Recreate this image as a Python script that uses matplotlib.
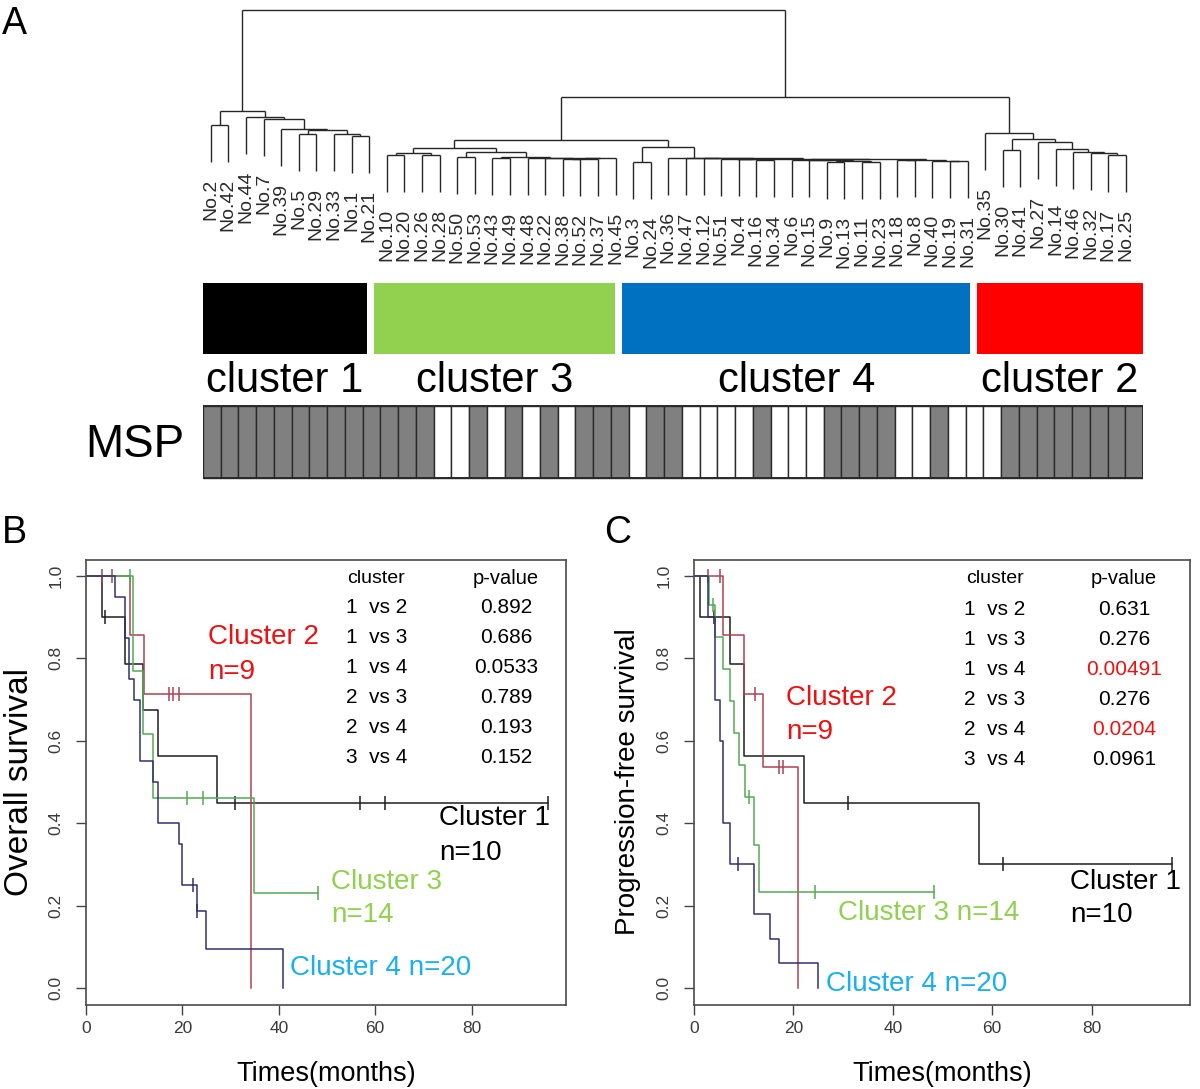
import numpy as np
import matplotlib
matplotlib.use("Agg")
import matplotlib.pyplot as plt
from matplotlib.patches import Rectangle

plt.rcParams['font.family'] = ['Liberation Sans', 'DejaVu Sans']

W, H = 1200, 1089

# ---------------- data : panel A ----------------
leaf_labels = ["No.2", "No.42", "No.44", "No.7", "No.39", "No.5", "No.29", "No.33", "No.1", "No.21",
               "No.10", "No.20", "No.26", "No.28", "No.50", "No.53", "No.43", "No.49", "No.48", "No.22",
               "No.38", "No.52", "No.37", "No.45",
               "No.3", "No.24", "No.36", "No.47", "No.12", "No.51", "No.4", "No.16", "No.34", "No.6",
               "No.15", "No.9", "No.13", "No.11", "No.23", "No.18", "No.8", "No.40", "No.19", "No.31",
               "No.35", "No.30", "No.41", "No.27", "No.14", "No.46", "No.32", "No.17", "No.25"]

# hierarchical merges (node, left child, right child, height)
merge_node = ["a1", "a2", "a3", "a4", "a5", "a6", "a7", "a8", "C1",
              "b1", "b2", "b3", "b4", "g1", "g2", "g3", "g4", "g5", "g6", "g7", "b5", "C3",
              "d1", "e1", "e2", "e3", "f1", "f2", "f3", "f4", "f5", "h1", "h2", "h3", "h4", "f6",
              "r3", "r2", "r1", "r0", "C4",
              "k1", "k2", "k3", "k4", "k5", "k6", "k7", "C2",
              "C34", "C234", "root"]
merge_left = ["No.2", "No.5", "No.1", "No.33", "a2", "No.39", "No.7", "No.44", "a1",
              "No.10", "No.26", "b1", "No.50", "No.43", "No.38", "g2", "g3", "No.22", "No.48", "g1", "b4", "b3",
              "No.3", "No.16", "No.4", "No.51", "No.9", "No.11", "f1", "No.15", "No.6", "No.19", "No.40", "No.18", "h3", "f5",
              "e3", "No.12", "No.47", "No.36", "d1",
              "No.17", "No.32", "No.46", "No.14", "No.27", "No.30", "k6", "No.35",
              "C3", "C34", "C1"]
merge_right = ["No.42", "No.29", "No.21", "a3", "a4", "a5", "a6", "a7", "a8",
               "No.20", "No.28", "b2", "No.53", "No.49", "No.52", "No.37", "No.45", "g4", "g5", "g6", "g7", "b5",
               "No.24", "No.34", "e1", "e2", "No.13", "No.23", "f2", "f3", "f4", "No.31", "h1", "No.8", "h2", "h4",
               "f6", "r3", "r2", "r1", "r0",
               "No.25", "k1", "k2", "k3", "k4", "No.41", "k5", "k7",
               "C4", "C2", "C234"]
merge_height = [6.89, 6.65, 6.59, 6.64, 6.76, 6.78, 7.06, 7.10, 7.27,
                6.08, 6.08, 6.13, 6.02, 5.99, 5.97, 5.98, 5.99, 6.00, 6.01, 6.03, 6.17, 6.26,
                5.89, 5.95, 5.96, 5.97, 5.89, 5.90, 5.92, 5.94, 5.95, 5.91, 5.93, 5.94, 5.95, 5.97,
                5.98, 5.99, 6.00, 6.01, 6.29,
                6.08, 6.14, 6.17, 6.24, 6.43, 6.22, 6.51, 6.68,
                6.49, 7.65, 10.0]
hang = 1.0

cluster_names = ["cluster 1", "cluster 3", "cluster 4", "cluster 2"]
cluster_sizes = [10, 14, 20, 9]
cluster_colors = ["#000000", "#92D050", "#0070C0", "#FF0000"]

# MSP status per sample (1 = methylated / grey, 0 = unmethylated / white)
msp_status = [1, 1, 1, 1, 1, 1, 1, 1, 1, 1, 1, 1, 1,
              0, 0, 1, 0, 1, 0, 1, 0, 1, 1, 1, 0, 1, 1, 0, 0, 0, 0, 1, 0, 0, 0, 1, 1, 1, 1, 0, 0, 1, 0, 0, 0,
              1, 1, 1, 1, 1, 1, 1, 1]

# ---------------- data : panels B / C (time in months, event 1 = death/progression, 0 = censored) ----
os_c1_time = [3.3, 3.9, 8.1, 11.9, 14.9, 27.1, 30.9, 56.8, 62.0, 95.8]
os_c1_event = [1, 0, 1, 1, 1, 1, 0, 0, 0, 0]
os_c2_time = [3.3, 5.3, 9.1, 12.1, 17.3, 18.1, 19.2, 34.2, 34.2]
os_c2_event = [0, 0, 1, 1, 0, 0, 0, 1, 1]
os_c3_time = [9.1, 9.8, 9.8, 9.8, 11.9, 11.9, 14.0, 14.0, 20.9, 20.9, 24.2, 24.2, 34.9, 48.2]
os_c3_event = [0, 1, 1, 1, 1, 1, 1, 1, 0, 0, 0, 0, 1, 0]
os_c4_time = [6.0, 8.1, 8.1, 9.0, 9.0, 10.0, 11.2, 11.2, 11.2, 14.0, 14.9, 14.9, 19.2, 19.9, 19.9,
              22.3, 23.0, 23.0, 25.0, 40.9]
os_c4_event = [1, 1, 1, 1, 1, 1, 1, 1, 1, 1, 1, 1, 1, 1, 1, 0, 1, 0, 1, 1]

pfs_c1_time = [1.3, 4.0, 7.2, 10.1, 10.1, 22.2, 31.0, 57.3, 62.2, 96.1]
pfs_c1_event = [1, 0, 1, 1, 1, 1, 0, 1, 0, 0]
pfs_c2_time = [2.9, 5.2, 5.9, 10.1, 12.3, 13.9, 17.2, 18.0, 21.0]
pfs_c2_event = [0, 0, 1, 1, 0, 1, 0, 0, 1]
pfs_c3_time = [3.1, 3.9, 4.2, 5.9, 7.2, 8.1, 9.1, 10.3, 11.0, 11.0, 12.1, 13.1, 24.3, 48.2]
pfs_c3_event = [1, 0, 1, 1, 1, 1, 1, 1, 0, 0, 1, 1, 0, 0]
pfs_c4_time = [2.9, 2.9, 4.2, 4.2, 4.2, 4.2, 5.2, 5.2, 5.9, 5.9, 5.9, 5.9, 7.2, 7.2, 8.9,
               12.1, 12.1, 15.2, 17.2, 25.0]
pfs_c4_event = [1, 1, 1, 1, 1, 1, 1, 1, 1, 1, 1, 1, 1, 1, 0, 1, 1, 1, 1, 1]

pair_labels = ["1  vs 2", "1  vs 3", "1  vs 4", "2  vs 3", "2  vs 4", "3  vs 4"]
os_pvalues = ["0.892", "0.686", "0.0533", "0.789", "0.193", "0.152"]
pfs_pvalues = ["0.631", "0.276", "0.00491", "0.276", "0.0204", "0.0961"]
pfs_significant = [False, False, True, False, True, False]

line_colors = ["#1e1e1e", "#b04250", "#55aa55", "#303070"]
label_colors = ["#000000", "#ee1111", "#92D050", "#18b0ee"]

# ---------------- figure ----------------
fig = plt.figure(figsize=(W / 100, H / 100), dpi=100)


def add_axes_px(x0, y0, x1, y1):
    """axes from pixel box (x0,y0)=top-left, (x1,y1)=bottom-right"""
    return fig.add_axes([x0 / W, 1 - y1 / H, (x1 - x0) / W, (y1 - y0) / H])


# ---- dendrogram ----
leaf_step = 17.6
leaf_x0 = 210.7
unit = 37.0      # px per height unit
zero_y = 380.0   # px of height 0
axD = add_axes_px(leaf_x0 - leaf_step, zero_y - unit * 10.25, leaf_x0 + leaf_step * 53,
                  zero_y - unit * 4.6)
axD.set_xlim(-1, 53)
axD.set_ylim(4.6, 10.25)
axD.axis("off")

pos = {lab: float(i) for i, lab in enumerate(leaf_labels)}
hgt = {}
dcol = "#262626"
for node, l, r, h in zip(merge_node, merge_left, merge_right, merge_height):
    xl, xr = pos[l], pos[r]
    for child, xc in ((l, xl), (r, xr)):
        if child in hgt:
            axD.plot([xc, xc], [hgt[child], h], color=dcol, lw=1.0, solid_capstyle="butt")
        else:
            axD.plot([xc, xc], [h - hang, h], color=dcol, lw=1.0, solid_capstyle="butt")
            axD.text(xc, h - hang - 0.45, child, rotation=90, ha="center", va="top",
                     fontsize=14, color="#2a2a2a", clip_on=False)
    axD.plot([xl, xr], [h, h], color=dcol, lw=1.0, solid_capstyle="butt")
    pos[node] = (xl + xr) / 2
    hgt[node] = h

# ---- cluster bars + MSP ----
axM = add_axes_px(203, 275, 1143, 485)
axM.set_xlim(0, 53)
axM.set_ylim(485, 275)
axM.axis("off")
total = len(msp_status)
start = 0
for name, size, col in zip(cluster_names, cluster_sizes, cluster_colors):
    end = start + size
    x0 = max(start - 0.35, 0)
    x1 = end - 0.75 if end < total else end
    axM.add_patch(Rectangle((x0, 283), x1 - x0, 71, facecolor=col, edgecolor="none"))
    axM.text((x0 + x1) / 2, 392, name, ha="center", va="baseline",
             fontsize=30, color="black")
    start = end
for i, m in enumerate(msp_status):
    axM.add_patch(Rectangle((i, 406), 1, 72, facecolor="#808080" if m else "white",
                            edgecolor="#2a2a2a", lw=1.0))
axM.add_patch(Rectangle((0, 406), total, 72, facecolor="none", edgecolor="#2a2a2a", lw=1.4))
fig.text(85 / W, 1 - 457 / H, "MSP", fontsize=33, ha="left", va="baseline")

# panel letters
for lab, x, y in (("A", 2, 34), ("B", 2, 543), ("C", 604, 543)):
    fig.text(x / W, 1 - y / H, lab, fontsize=27, ha="left", va="baseline")


# ---- Kaplan-Meier ----
def km(times, events):
    t = np.asarray(times, float)
    e = np.asarray(events, int)
    s = 1.0
    xs, ys, cx, cy = [0.0], [1.0], [], []
    for u in np.unique(t):
        n = np.sum(t >= u)
        d = np.sum((t == u) & (e == 1))
        c = np.sum((t == u) & (e == 0))
        if d:
            xs += [u, u]
            ys += [s, s * (1 - d / n)]
            s = s * (1 - d / n)
        if c:
            cx.append(u)
            cy.append(s)
    if xs[-1] < t.max():
        xs.append(t.max())
        ys.append(s)
    return xs, ys, cx, cy


def km_axes(box, xmax, curves, ylabel, ylab_size):
    ax = add_axes_px(*box)
    for (tt, ee), col in zip(curves, line_colors):
        xs, ys, cx, cy = km(tt, ee)
        ax.plot(xs, ys, color=col, lw=1.1)
        ax.plot(cx, cy, ls="none", marker="|", ms=9.5, mew=1.1, color=col)
    ax.set_xlim(0, xmax)
    ax.set_ylim(-0.04, 1.04)
    ax.set_xticks([0, 20, 40, 60, 80])
    ax.set_yticks([0, 0.2, 0.4, 0.6, 0.8, 1.0])
    ax.set_yticklabels(["0.0", "0.2", "0.4", "0.6", "0.8", "1.0"], rotation=90, va="center")
    ax.tick_params(length=7, width=1, color="#444444", labelsize=12.5, labelcolor="#3a3a3a")
    ax.tick_params(axis="y", pad=9)
    ax.tick_params(axis="x", pad=5)
    for sp in ax.spines.values():
        sp.set_color("#4a4a4a")
        sp.set_linewidth(1.2)
    cx_px = (box[0] + box[2]) / 2
    fig.text((box[0] - 66) / W, 1 - ((box[1] + box[3]) / 2) / H, ylabel, rotation=90,
             ha="center", va="center", fontsize=ylab_size)
    fig.text(cx_px / W, 1 - 1081 / H, "Times(months)", ha="center", va="baseline",
             fontsize=19.5)
    return ax


axB = km_axes((86, 559.5, 566, 1004.5), 99.6,
              [(os_c1_time, os_c1_event), (os_c2_time, os_c2_event),
               (os_c3_time, os_c3_event), (os_c4_time, os_c4_event)],
              "Overall survival", 24)
axC = km_axes((694, 559.5, 1190, 1004.5), 99.8,
              [(pfs_c1_time, pfs_c1_event), (pfs_c2_time, pfs_c2_event),
               (pfs_c3_time, pfs_c3_event), (pfs_c4_time, pfs_c4_event)],
              "Progression-free survival", 20)

# tables
row_step = 0.0730
for ax, pv, sig, xc, xp, xl, y0 in (
        (axB, os_pvalues, [False] * 6, 60.2, 87.2, 53.9, 0.924),
        (axC, pfs_pvalues, pfs_significant, 60.6, 86.5, 54.3, 0.919)):
    ax.text(xc, 0.994, "cluster", ha="center", va="center", fontsize=14)
    ax.text(xp, 0.994, "p-value", ha="center", va="center", fontsize=14.5)
    for k, (pl, p, s) in enumerate(zip(pair_labels, pv, sig)):
        y = y0 - k * row_step
        ax.text(xl, y, pl, ha="left", va="center", fontsize=15)
        ax.text(xp, y, p, ha="center", va="center", fontsize=15,
                color="#ee1111" if s else "black")

# curve labels panel B
axB.text(25.3, 0.853, "Cluster 2", color=label_colors[1], fontsize=20, va="center")
axB.text(25.3, 0.768, "n=9", color=label_colors[1], fontsize=20, va="center")
axB.text(73.3, 0.412, "Cluster 1", color=label_colors[0], fontsize=20, va="center")
axB.text(73.3, 0.327, "n=10", color=label_colors[0], fontsize=20, va="center")
axB.text(50.8, 0.258, "Cluster 3", color=label_colors[2], fontsize=20, va="center")
axB.text(50.8, 0.177, "n=14", color=label_colors[2], fontsize=20, va="center")
axB.text(42.3, 0.048, "Cluster 4 n=20", color=label_colors[3], fontsize=20, va="center")

# curve labels panel C
axC.text(18.5, 0.703, "Cluster 2", color=label_colors[1], fontsize=20, va="center")
axC.text(18.5, 0.622, "n=9", color=label_colors[1], fontsize=20, va="center")
axC.text(75.7, 0.258, "Cluster 1", color=label_colors[0], fontsize=20, va="center")
axC.text(75.7, 0.177, "n=10", color=label_colors[0], fontsize=20, va="center")
axC.text(29.0, 0.182, "Cluster 3 n=14", color=label_colors[2], fontsize=20, va="center")
axC.text(26.6, 0.010, "Cluster 4 n=20", color=label_colors[3], fontsize=20, va="center")

fig.savefig("out.png", dpi=100)
